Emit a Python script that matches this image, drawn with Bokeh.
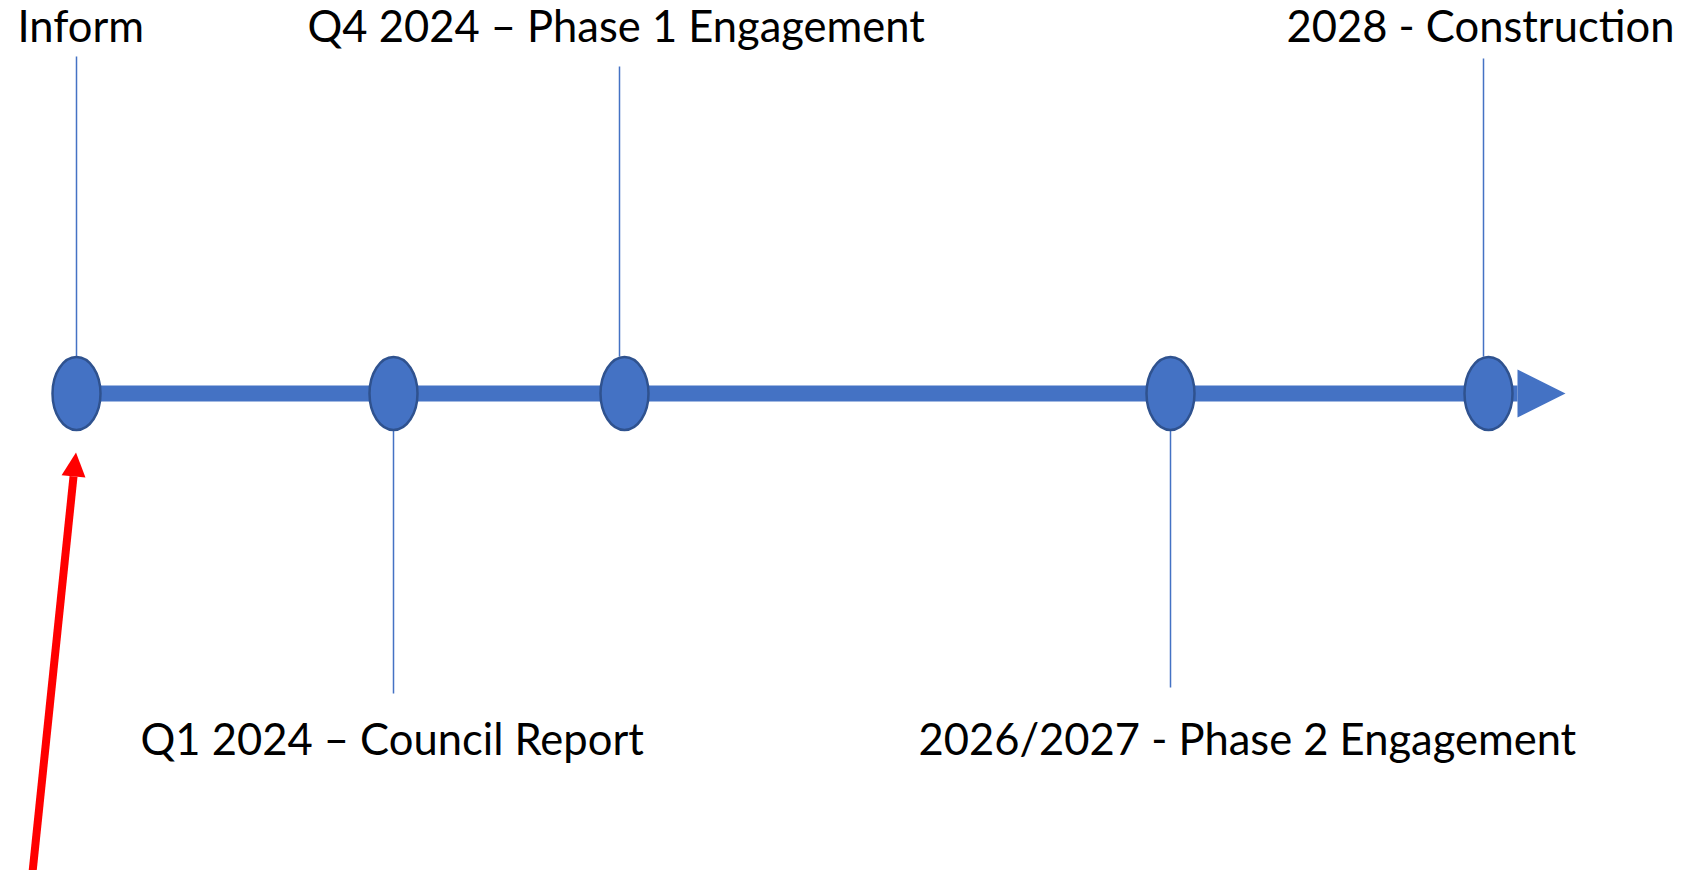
from bokeh.plotting import figure
from bokeh.models import Range1d, ColumnDataSource, Arrow, NormalHead
from bokeh.core.properties import value
from bokeh.embed import file_html
from bokeh.resources import INLINE

# ---- data -------------------------------------------------------------
labels = ["Inform", "Q1 2024 – Council Report", "Q4 2024 – Phase 1 Engagement",
          "2026/2027 - Phase 2 Engagement", "2028 -  Construction"]
milestone_pos = [76, 393, 624, 1170, 1488]      # position on the timeline
connector_pos = [76, 393, 619, 1170, 1483]
side = ["above", "below", "above", "below", "above"]
connector_end = [56, 693, 66, 687, 58]
label_x = [17, 140, 307, 918, 1286]
timeline_start, timeline_end = 76, 1565
axis_y = 393
pointer_from = (32, 872)
pointer_to = (75.5, 452)

BLUE = "#4472C4"
DARK = "#2F528F"

W, H = 1689, 870
p = figure(width=W, height=H, output_backend="svg", toolbar_location=None,
           x_range=Range1d(0, W), y_range=Range1d(H, 0),
           x_axis_type=None, y_axis_type=None,
           min_border=0, min_border_left=0, min_border_right=0,
           min_border_top=0, min_border_bottom=0)
p.outline_line_color = None
p.grid.visible = False
p.background_fill_color = "white"
p.border_fill_color = "white"

# main timeline arrow
main = Arrow(x_start=timeline_start, y_start=axis_y, x_end=timeline_end, y_end=axis_y,
             line_color=BLUE, line_width=16,
             end=NormalHead(size=48, fill_color=BLUE, line_color=BLUE, line_width=0),
             level="underlay")
p.add_layout(main)

# connectors
ell_top = axis_y - 37
ell_bot = axis_y + 37
c_src = ColumnDataSource(dict(
    x0=connector_pos, x1=connector_pos,
    y0=[ell_top if s == "above" else ell_bot for s in side],
    y1=connector_end))
p.segment("x0", "y0", "x1", "y1", source=c_src, line_color=BLUE, line_width=1.5)

# milestones
m_src = ColumnDataSource(dict(x=milestone_pos, y=[axis_y] * len(milestone_pos)))
p.ellipse("x", "y", width=48, height=73, source=m_src,
          fill_color=BLUE, line_color=DARK, line_width=2.5)

# labels
t_src = ColumnDataSource(dict(
    x=label_x,
    y=[24 if s == "above" else 737 for s in side],
    text=labels))
p.text("x", "y", text="text", source=t_src, text_align="left",
       text_baseline="alphabetic", text_font=value("Lato"),
       text_font_size="43.5px", text_color="black")

# red pointer arrow
pointer = Arrow(x_start=pointer_from[0], y_start=pointer_from[1],
                x_end=pointer_to[0], y_end=pointer_to[1],
                line_color="#FF0000", line_width=8,
                end=NormalHead(size=24, fill_color="#FF0000", line_color="#FF0000", line_width=0))
p.add_layout(pointer)

open("out.html", "w").write(file_html(p, INLINE))
